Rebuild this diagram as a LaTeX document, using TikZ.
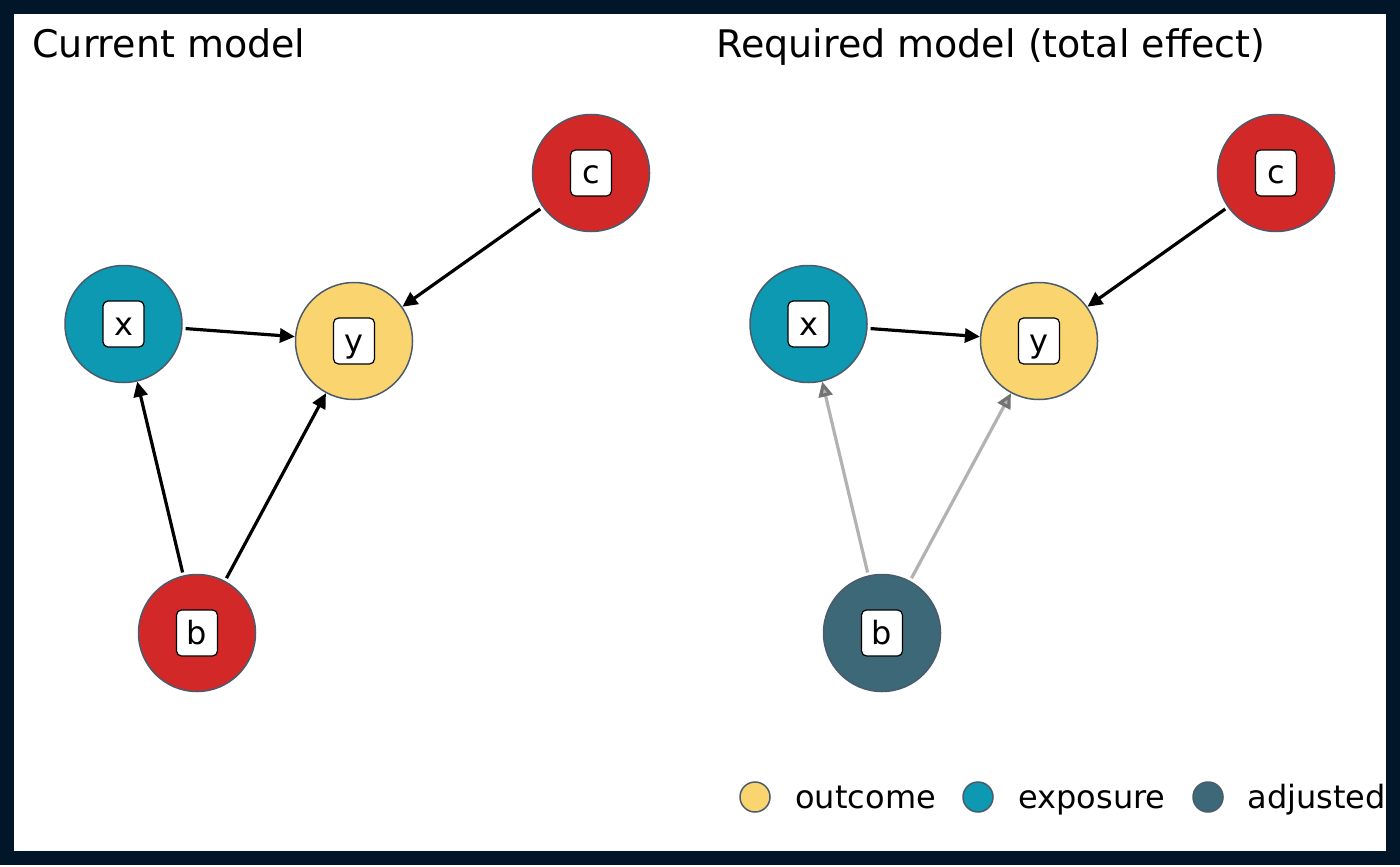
\documentclass[tikz,border=0pt]{standalone}
\usepackage{fontspec}
\setmainfont{DejaVu Sans}
\usetikzlibrary{arrows.meta}
\definecolor{outcomeC}{HTML}{FAD46F}
\definecolor{exposureC}{HTML}{0C99B1}
\definecolor{otherC}{HTML}{D22828}
\definecolor{adjustedC}{HTML}{3D6877}
\definecolor{frameC}{HTML}{011628}
\definecolor{rimC}{HTML}{4A5B6C}
\tikzset{
    dagnode/.style={circle,draw=rimC,line width=0.75pt,minimum size=58.5pt,inner sep=0pt},
    lbl/.style={draw=black,fill=white,rounded corners=2.5pt,line width=0.6pt,minimum width=20.5pt,minimum height=23pt,inner sep=0pt,text height=11pt,text depth=0pt,font=\fontsize{16}{16}\selectfont},
    causal/.style={line width=1.6pt,-{Triangle[length=7.5pt,width=7pt]},shorten <=1.5pt},
    faint/.style={line width=1.6pt,black!30,-{Triangle[length=7.5pt,width=7pt,fill=black!30,color=black!55]},shorten <=1.5pt},
    legdot/.style={circle,draw=rimC,line width=0.75pt,minimum size=15pt,inner sep=0pt},
    legtxt/.style={anchor=base west,font=\fontsize{16}{19}\selectfont,inner sep=0pt},
    heading/.style={anchor=base west,font=\fontsize{19}{23}\selectfont,inner sep=0pt}
}
\begin{document}
\begin{tikzpicture}[x=0.5pt,y=-0.5pt]
            \useasboundingbox (0,0) rectangle (1400,866);
            \fill[white] (0,0) rectangle (1400,866);

            \node[heading] (title1) at (32,58) {Current model};
            \node[heading] (title2) at (716,58) {Required model (total effect)};

            \node[dagnode,fill=exposureC] (x1) at (123.5,324) {};
            \node[dagnode,fill=outcomeC] (y1) at (354,341) {};
            \node[dagnode,fill=otherC] (c1) at (591,173) {};
            \node[dagnode,fill=otherC] (b1) at (197,633) {};
            \node[lbl] (x1l) at (x1) {x};
            \node[lbl] (y1l) at (y1) {y};
            \node[lbl] (c1l) at (c1) {c};
            \node[lbl] (b1l) at (b1) {b};

            \draw[causal] (x1) -- (y1);
            \draw[causal] (b1) -- (x1);
            \draw[causal] (b1) -- (y1);
            \draw[causal] (c1) -- (y1);

            \node[dagnode,fill=exposureC] (x2) at (808.5,324) {};
            \node[dagnode,fill=outcomeC] (y2) at (1039,341) {};
            \node[dagnode,fill=otherC] (c2) at (1276,173) {};
            \node[dagnode,fill=adjustedC] (b2) at (882,633) {};
            \node[lbl] (x2l) at (x2) {x};
            \node[lbl] (y2l) at (y2) {y};
            \node[lbl] (c2l) at (c2) {c};
            \node[lbl] (b2l) at (b2) {b};

            \draw[causal] (x2) -- (y2);
            \draw[causal] (c2) -- (y2);
            \draw[faint] (b2) -- (x2);
            \draw[faint] (b2) -- (y2);

            \node[legdot,fill=outcomeC] (leg1) at (755,797) {};
            \node[legtxt] (leg1t) at (795,808) {outcome};
            \node[legdot,fill=exposureC] (leg2) at (978,797) {};
            \node[legtxt] (leg2t) at (1018,808) {exposure};
            \node[legdot,fill=adjustedC] (leg3) at (1208,797) {};
            \node[legtxt] (leg3t) at (1247,808) {adjusted};

            \draw[frameC,line width=7pt] (7,7) rectangle (1393,858);
        \end{tikzpicture}
\end{document}
